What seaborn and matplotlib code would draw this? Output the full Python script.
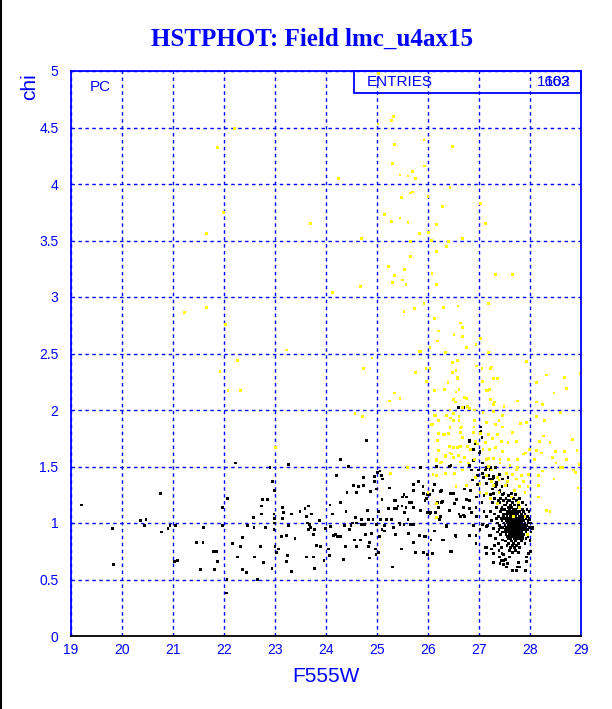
import pandas as pd
import matplotlib.pyplot as plt
import matplotlib.ticker as mticker
from matplotlib.patches import Rectangle
from matplotlib.lines import Line2D
import seaborn as sns

# values (F555W, chi)
black_pts = [
    (19.20, 1.16), (19.82, 0.95), (19.84, 0.63), (20.37, 1.02), (20.47, 1.03), (20.44, 0.98),
    (20.76, 1.26), (20.78, 0.92), (20.90, 0.95), (20.94, 0.98), (21.05, 0.98), (21.03, 0.66),
    (21.09, 0.67), (21.54, 0.59), (21.46, 0.83), (21.59, 0.83), (21.60, 0.96), (21.80, 0.75),
    (21.86, 0.75), (21.88, 0.66), (21.82, 0.59), (21.97, 1.14), (21.97, 0.98), (22.07, 1.22),
    (22.22, 1.53), (22.17, 0.82), (22.37, 0.87), (22.33, 0.79), (22.27, 0.70), (22.37, 0.59),
    (22.44, 0.56), (22.46, 0.98), (22.58, 1.05), (22.59, 0.96), (22.60, 0.70), (22.65, 0.50),
    (22.06, 0.50), (22.05, 0.38),
    (22.72, 0.79), (22.78, 0.65), (22.82, 0.96), (22.76, 1.21), (22.86, 1.21), (22.74, 1.15),
    (22.74, 1.08), (22.90, 1.49), (22.95, 1.37), (22.99, 1.29), (22.98, 1.08), (22.99, 1.04),
    (22.99, 1.00), (22.98, 0.94), (23.00, 0.79), (23.03, 0.74), (22.94, 0.60), (23.07, 0.77),
    (23.14, 1.14), (23.17, 1.09), (23.15, 1.04), (23.12, 0.88), (23.22, 0.89), (23.24, 0.71),
    (23.23, 0.66), (23.27, 0.98), (23.27, 1.52), (23.33, 1.08), (23.33, 0.57), (23.39, 0.86),
    (23.49, 1.10), (23.59, 1.13), (23.65, 1.15), (23.62, 1.06), (23.63, 1.00), (23.67, 0.99),
    (23.70, 0.96), (23.65, 0.94), (23.72, 1.08), (23.76, 0.90), (23.78, 0.94), (23.62, 0.70),
    (23.76, 0.70), (23.78, 0.60), (23.82, 0.80), (23.89, 0.79), (23.88, 1.02), (23.96, 0.67),
    (23.99, 0.95), (24.05, 0.77), (24.07, 0.71), (24.08, 1.16), (24.09, 0.97), (24.12, 1.08),
    (24.14, 0.89), (24.20, 1.42), (24.18, 0.90), (24.22, 0.88), (24.29, 1.56), (24.29, 1.18),
    (24.29, 0.88), (24.35, 0.68), (24.37, 0.98), (24.38, 0.79), (24.39, 1.10), (24.41, 1.27),
    (24.44, 1.50), (24.46, 0.94), (24.49, 0.98), (24.52, 1.00), (24.54, 1.33), (24.56, 0.85),
    (24.58, 1.05), (24.60, 1.27), (24.60, 1.00), (24.60, 0.79), (24.64, 1.32), (24.67, 0.85),
    (24.69, 1.03), (24.70, 0.99), (24.74, 1.40), (24.74, 1.33), (24.76, 0.99), (24.78, 0.90),
    (24.80, 1.73), (24.82, 1.11), (24.83, 1.03), (24.84, 0.79), (24.85, 0.69), (24.86, 0.83),
    (24.88, 1.28), (24.89, 0.91), (24.92, 1.03), (24.95, 1.41), (24.95, 1.37), (24.97, 0.77),
    (24.98, 0.72), (24.99, 1.30), (24.99, 0.99), (25.01, 1.45), (25.03, 1.10), (25.03, 0.74),
    (25.05, 0.88), (25.06, 1.46), (25.07, 1.03), (25.09, 1.42), (25.10, 1.21), (25.11, 1.39),
    (25.10, 0.94), (25.14, 0.98), (25.15, 0.93), (25.18, 1.03), (25.22, 1.13), (25.24, 1.31),
    (25.29, 1.03), (25.31, 0.61), (25.32, 0.96), (25.34, 1.20), (25.35, 1.13), (25.37, 1.20),
    (25.37, 0.90), (25.39, 1.13), (25.41, 1.15), (25.44, 1.00), (25.45, 0.99), (25.48, 0.77),
    (25.49, 1.15), (25.50, 1.23), (25.53, 1.25), (25.53, 0.99), (25.54, 1.09), (25.57, 1.14),
    (25.58, 1.23), (25.61, 1.03), (25.62, 0.91), (25.63, 1.18), (25.65, 0.99), (25.67, 1.18),
    (25.68, 0.99), (25.71, 1.34), (25.71, 1.29), (25.71, 1.14), (25.71, 0.99), (25.72, 0.83),
    (25.75, 0.74), (25.82, 1.37), (25.86, 1.49), (25.86, 1.11), (25.84, 0.89), (25.90, 1.32),
    (25.91, 1.26), (25.91, 0.74), (25.94, 1.20), (25.95, 0.88), (25.97, 1.22), (25.99, 1.25),
    (25.99, 0.72), (25.99, 1.09), (26.03, 1.25), (26.05, 1.09), (26.06, 0.85), (26.09, 0.73),
    (26.10, 1.29), (26.12, 1.34), (26.13, 0.93), (26.15, 1.09), (26.17, 1.50), (26.18, 1.18),
    (26.21, 1.14), (26.22, 1.03),
    (26.61, 2.02), (26.70, 2.02), (27.04, 1.85), (27.04, 1.81), (27.06, 1.76), (26.82, 1.73),
    (26.93, 1.70), (27.02, 1.63), (26.89, 1.55), (26.82, 1.51), (26.45, 1.51), (27.07, 1.53),
    (26.99, 1.47), (27.12, 1.47), (27.22, 1.47), (26.88, 1.38), (26.97, 1.34), (27.18, 1.42),
    (27.27, 1.39), (27.33, 1.34), (27.41, 1.29), (26.25, 1.28), (26.04, 1.08), (26.27, 1.18),
    (26.42, 1.11), (26.50, 1.26), (26.61, 1.08), (26.69, 1.07), (26.81, 1.20), (26.86, 1.09),
    (27.02, 0.94), (27.15, 0.97), (27.22, 0.89), (26.37, 0.97), (26.55, 0.88), (26.30, 0.85),
    (25.92, 0.88), (26.10, 0.73), (26.44, 0.75), (27.12, 0.78), (27.25, 0.77), (27.44, 0.67),
    (27.48, 0.63), (27.56, 0.64), (27.66, 0.58), (27.75, 0.61), (27.90, 0.58), (27.93, 0.70),
    (28.00, 0.85), (28.05, 0.95), (28.00, 1.03),
    (26.60, 2.02), (27.03, 1.80), (26.82, 1.72), (26.93, 1.72), (27.01, 1.62), (26.89, 1.65),
    (26.42, 1.50), (26.86, 1.47), (27.14, 1.49), (27.22, 1.49), (27.32, 1.49), (27.07, 1.44),
    (26.97, 1.42), (27.09, 1.40), (27.20, 1.39), (27.28, 1.41), (27.40, 1.43), (27.46, 1.39),
    (27.57, 1.40), (26.72, 1.30), (26.84, 1.29), (26.98, 1.34), (27.15, 1.35), (27.35, 1.34),
    (27.45, 1.32), (27.54, 1.33), (26.26, 1.29), (26.44, 1.26), (26.56, 1.21), (26.76, 1.21),
    (26.95, 1.23), (27.10, 1.24), (27.29, 1.26), (27.49, 1.26), (26.29, 1.19), (26.52, 1.17),
    (26.69, 1.14), (26.81, 1.13), (26.94, 1.14), (27.06, 1.18), (26.25, 1.06), (26.63, 1.06),
    (26.71, 1.06), (26.95, 1.06), (27.10, 1.10), (27.15, 1.06), (26.37, 0.98), (26.89, 0.98),
    (27.07, 0.99), (27.16, 0.98), (26.81, 0.89), (26.54, 0.89), (26.94, 0.89), (27.20, 0.89),
    (26.29, 0.85), (26.94, 0.82), (27.15, 0.78), (26.46, 0.75), (27.28, 0.73), (27.15, 0.73),
    (27.39, 0.76), (27.45, 0.73), (27.49, 0.67), (27.29, 0.65), (27.41, 0.64), (27.54, 0.61),
    (27.66, 0.58), (27.73, 0.58), (27.78, 0.65), (27.80, 0.61), (27.91, 0.58), (27.93, 0.66),
    (27.97, 0.73), (28.01, 0.75), (28.05, 0.96), (28.00, 0.84),
]

# dense clump of black points near F555W 27.7, chi 1.0
core_pts = [
    (27.52, 1.08), (27.58, 1.08), (27.63, 1.08), (27.70, 1.08), (27.76, 1.08), (27.83, 1.08), (27.90, 1.08),
    (27.48, 1.06), (27.55, 1.06), (27.61, 1.06), (27.66, 1.06), (27.72, 1.06), (27.79, 1.06), (27.86, 1.06),
    (27.95, 1.06), (27.50, 1.04), (27.56, 1.04), (27.60, 1.04), (27.64, 1.04), (27.69, 1.04), (27.74, 1.04),
    (27.80, 1.04), (27.85, 1.04), (27.92, 1.04), (27.98, 1.04), (27.45, 1.02), (27.53, 1.02), (27.58, 1.02),
    (27.62, 1.02), (27.67, 1.02), (27.71, 1.02), (27.77, 1.02), (27.82, 1.02), (27.88, 1.02), (27.96, 1.02),
    (27.49, 1.00), (27.55, 1.00), (27.59, 1.00), (27.63, 1.00), (27.66, 1.00), (27.70, 1.00), (27.75, 1.00),
    (27.79, 1.00), (27.84, 1.00), (27.90, 1.00), (27.97, 1.00), (27.51, 0.98), (27.57, 0.98), (27.61, 0.98),
    (27.65, 0.98), (27.69, 0.98), (27.73, 0.98), (27.78, 0.98), (27.83, 0.98), (27.87, 0.98), (27.93, 0.98),
    (27.47, 0.96), (27.54, 0.96), (27.60, 0.96), (27.64, 0.96), (27.68, 0.96), (27.72, 0.96), (27.76, 0.96),
    (27.81, 0.96), (27.86, 0.96), (27.91, 0.96), (27.99, 0.96), (27.52, 0.94), (27.58, 0.94), (27.62, 0.94),
    (27.67, 0.94), (27.71, 0.94), (27.75, 0.94), (27.80, 0.94), (27.85, 0.94), (27.89, 0.94), (27.95, 0.94),
    (27.50, 0.92), (27.56, 0.92), (27.61, 0.92), (27.65, 0.92), (27.70, 0.92), (27.74, 0.92), (27.79, 0.92),
    (27.84, 0.92), (27.92, 0.92), (27.53, 0.90), (27.59, 0.90), (27.63, 0.90), (27.68, 0.90), (27.73, 0.90),
    (27.77, 0.90), (27.82, 0.90), (27.88, 0.90), (27.55, 0.88), (27.60, 0.88), (27.66, 0.88), (27.71, 0.88),
    (27.76, 0.88), (27.81, 0.88), (27.86, 0.88), (27.57, 0.86), (27.62, 0.86), (27.69, 0.86), (27.74, 0.86),
    (27.79, 0.86), (27.85, 0.86), (27.56, 1.10), (27.62, 1.10), (27.68, 1.10), (27.74, 1.10), (27.80, 1.10),
    (27.50, 1.12), (27.60, 1.12), (27.67, 1.12), (27.72, 1.12), (27.85, 1.12), (27.45, 1.14), (27.58, 1.14),
    (27.64, 1.14), (27.78, 1.14), (27.52, 1.16), (27.62, 1.16), (27.70, 1.16), (27.40, 1.18), (27.55, 1.18),
    (27.66, 1.18), (27.48, 1.20), (27.60, 1.20), (27.42, 1.22), (27.53, 1.22), (27.52, 0.84), (27.64, 0.84),
    (27.72, 0.84), (27.83, 0.84), (27.58, 0.82), (27.68, 0.82), (27.77, 0.82), (27.90, 0.82), (27.55, 0.80),
    (27.66, 0.80), (27.74, 0.80), (27.62, 0.78), (27.70, 0.78), (27.80, 0.78), (27.60, 0.76), (27.72, 0.76),
    (27.66, 0.74), (27.78, 0.74),
    (27.22, 1.25), (27.26, 1.18), (27.30, 1.22), (27.34, 1.14), (27.38, 1.20), (27.42, 1.10), (27.30, 1.08),
    (27.25, 1.02), (27.35, 1.04), (27.40, 0.98), (27.44, 1.04), (27.28, 0.95), (27.36, 0.92), (27.42, 0.90),
    (27.33, 0.86), (27.38, 0.82), (27.46, 0.85), (27.30, 0.80), (27.44, 0.78), (27.48, 0.72), (27.40, 0.70),
    (27.52, 0.68), (27.60, 0.70), (27.22, 1.10), (27.26, 1.30), (27.32, 1.32), (27.40, 1.28), (27.46, 1.25),
    (27.35, 1.36), (27.28, 1.40),
    (27.88, 1.10), (27.94, 1.12), (27.78, 1.16), (27.85, 1.18), (27.74, 1.20), (27.68, 1.22), (27.80, 1.22),
    (27.58, 1.24), (27.64, 1.26), (27.72, 1.25), (27.38, 1.06), (27.36, 1.00), (27.42, 0.96), (27.39, 0.94),
    (27.45, 0.92), (27.47, 1.08), (27.44, 1.12), (27.50, 1.16), (27.57, 1.20), (27.92, 1.16), (27.98, 1.10),
    (28.02, 1.00), (28.02, 0.92), (27.96, 0.88), (27.92, 0.86),
]

yellow_pts = [
    (22.21, 4.49), (21.88, 4.32), (21.65, 3.56), (21.99, 3.75), (21.65, 2.91), (21.23, 2.86),
    (22.03, 2.76), (22.27, 2.44), (21.92, 2.34), (22.08, 2.17), (22.33, 2.17),
    (25.97, 2.25), (26.12, 2.17), (25.35, 2.15), (25.45, 2.10), (25.25, 2.08), (24.57, 1.97),
    (24.72, 1.94), (26.14, 1.95), (26.21, 1.91), (26.09, 1.87), (26.20, 1.79), (23.01, 1.67),
    (26.17, 1.56), (25.60, 1.49), (25.26, 1.44), (26.16, 1.42), (26.16, 1.05),
    (25.03, 4.98), (25.33, 4.60), (25.29, 4.56), (25.02, 4.53), (25.92, 4.39), (25.35, 4.35),
    (26.48, 4.33), (25.31, 4.18), (25.93, 4.16), (25.45, 4.08), (25.70, 4.11), (25.61, 4.07),
    (25.76, 4.05), (24.25, 4.05), (26.43, 3.97), (25.70, 3.93), (25.66, 3.92), (25.48, 3.88),
    (26.00, 3.89), (26.29, 3.80), (25.14, 3.73), (25.45, 3.70), (25.29, 3.67), (25.61, 3.66),
    (26.17, 3.64), (23.69, 3.65), (25.84, 3.56), (26.01, 3.57), (24.70, 3.52), (25.66, 3.49),
    (26.07, 3.50), (26.40, 3.49), (26.37, 3.45), (25.66, 3.36), (26.17, 3.40), (25.54, 3.24),
    (25.23, 3.27), (25.35, 3.19), (25.50, 3.15), (25.31, 3.13), (25.57, 3.11), (26.08, 3.21),
    (26.16, 3.11), (24.68, 3.09), (24.13, 3.04), (25.53, 2.87), (25.74, 2.90), (25.92, 2.94),
    (26.31, 2.91), (26.59, 2.92), (26.13, 2.81), (26.20, 2.70), (26.51, 2.67), (26.18, 2.61),
    (26.04, 2.55), (25.84, 2.52), (26.35, 2.51), (23.23, 2.53), (24.90, 2.46), (24.74, 2.37),
    (25.96, 2.37), (25.76, 2.33), (26.48, 2.42), (26.59, 2.44), (26.55, 2.35), (26.48, 2.33),
    (26.59, 2.28),
    (27.03, 3.83), (27.12, 3.65), (26.67, 3.52), (27.33, 3.20), (27.66, 3.20), (27.18, 2.94),
    (26.64, 2.77), (26.68, 2.73), (26.67, 2.65), (27.03, 2.63), (26.94, 2.58), (26.76, 2.55),
    (27.19, 2.51), (26.95, 2.39), (27.06, 2.37), (27.22, 2.37), (27.24, 2.38), (27.93, 2.43),
    (27.29, 2.28), (27.37, 2.28), (26.57, 2.28), (28.33, 2.31), (28.68, 2.29), (28.99, 2.32),
    (25.86, 2.52), (26.58, 2.44), (25.96, 2.37), (26.58, 2.29), (27.15, 2.17), (28.12, 2.24),
    (28.72, 2.19), (28.47, 2.15),
    (26.13, 1.95), (26.21, 1.91), (26.37, 1.95), (26.44, 1.93), (26.50, 1.91), (26.61, 1.91),
    (26.65, 1.85), (26.43, 1.84), (26.31, 1.78), (26.21, 1.79), (26.07, 1.87), (26.18, 1.73),
    (26.63, 1.80), (26.67, 1.76), (26.58, 1.67), (26.50, 1.67), (26.43, 1.62), (26.34, 1.60),
    (26.21, 1.64), (26.17, 1.55), (26.25, 1.53), (26.35, 1.44), (26.10, 1.43), (26.52, 1.44),
    (26.00, 1.27), (26.17, 1.17), (26.39, 2.24), (26.33, 2.18), (26.12, 2.17), (26.55, 2.16),
    (26.61, 2.18), (26.50, 2.09), (26.04, 2.37),
    (26.39, 2.24), (27.07, 2.25), (27.16, 2.17), (27.20, 2.18), (28.12, 2.24), (28.72, 2.19),
    (28.47, 2.15), (26.33, 2.18), (26.54, 2.07), (26.72, 2.11), (26.76, 2.10), (27.22, 2.09),
    (27.28, 2.05), (27.31, 2.07), (27.75, 2.08), (28.12, 2.07), (28.25, 2.05), (26.43, 2.00),
    (26.67, 2.02), (26.78, 2.03), (26.82, 2.01), (26.91, 2.00), (27.49, 2.03), (27.08, 1.98),
    (27.29, 1.99), (26.37, 1.95), (26.50, 1.97), (26.61, 1.94), (26.91, 1.91), (27.15, 1.89),
    (27.46, 1.95), (27.39, 1.91), (28.13, 1.94), (28.29, 1.91), (28.60, 1.98), (26.43, 1.85),
    (26.64, 1.84), (26.90, 1.85), (27.32, 1.87), (27.46, 1.85), (27.82, 1.88), (27.93, 1.89),
    (26.33, 1.78), (26.40, 1.79), (26.64, 1.80), (26.89, 1.80), (27.03, 1.79), (27.19, 1.78),
    (27.36, 1.78), (27.66, 1.80), (28.27, 1.77), (28.84, 1.74), (26.93, 1.72), (26.97, 1.70),
    (27.12, 1.71), (27.27, 1.75), (27.44, 1.72), (27.57, 1.71), (27.73, 1.72), (28.18, 1.72),
    (28.39, 1.71), (26.42, 1.68), (26.63, 1.68), (26.77, 1.68), (26.84, 1.65), (27.08, 1.65),
    (27.20, 1.65), (27.33, 1.67), (27.46, 1.63), (27.91, 1.62), (27.99, 1.65), (28.12, 1.64),
    (28.22, 1.62), (28.50, 1.63), (28.68, 1.63), (28.92, 1.64), (26.35, 1.59), (26.46, 1.61),
    (26.50, 1.58), (26.60, 1.60), (26.72, 1.58), (26.91, 1.56), (27.14, 1.56), (27.19, 1.57),
    (27.28, 1.57), (27.41, 1.56), (27.58, 1.56), (27.76, 1.56), (27.87, 1.61), (28.09, 1.56),
    (28.44, 1.58), (28.51, 1.53), (28.72, 1.56), (28.97, 1.52), (26.26, 1.54), (26.63, 1.54),
    (26.80, 1.53), (27.19, 1.50), (27.41, 1.53), (27.61, 1.51), (27.75, 1.49), (28.60, 1.49),
    (28.64, 1.49), (28.85, 1.47), (28.89, 1.45), (26.67, 1.47), (27.24, 1.47), (27.54, 1.44),
    (27.73, 1.47), (28.24, 1.46), (26.93, 1.40), (27.15, 1.42), (27.36, 1.40), (27.66, 1.43),
    (27.83, 1.42), (27.97, 1.43), (28.17, 1.42), (28.47, 1.39), (27.25, 1.37), (27.39, 1.38),
    (27.56, 1.37), (27.74, 1.39), (27.87, 1.37), (27.02, 1.35), (26.55, 1.32), (26.76, 1.33),
    (27.29, 1.33), (27.52, 1.33), (27.80, 1.32), (27.96, 1.32), (28.16, 1.33), (28.94, 1.31),
    (27.02, 1.27), (27.15, 1.26), (27.39, 1.27), (27.70, 1.29), (27.90, 1.27), (28.17, 1.23),
    (27.22, 1.22), (27.63, 1.23), (27.78, 1.18), (27.36, 1.17), (28.33, 1.11), (28.39, 1.10),
    (27.90, 1.06), (27.67, 1.06), (27.95, 0.90), (27.80, 1.14),
]

blue = "#0000ff"

rows = ([(x, y, "black") for x, y in black_pts + core_pts]
        + [(x, y, "yellow") for x, y in yellow_pts])
df = pd.DataFrame(rows, columns=["F555W", "chi", "group"])

sns.set_style("white")
plt.rcParams["font.family"] = ["Liberation Sans", "DejaVu Sans"]

fig = plt.figure(figsize=(6.12, 7.09), dpi=100)
ax = fig.add_axes([71 / 612, 73 / 709, 510 / 612, 565 / 709])

sns.scatterplot(data=df, x="F555W", y="chi", hue="group",
                palette={"black": "black", "yellow": "#ffff00"},
                marker="s", s=4, linewidth=0, legend=False, ax=ax, zorder=2)

ax.set_xlim(19, 29)
ax.set_ylim(0, 5)
ax.set_xlabel("")
ax.set_ylabel("")

ax.xaxis.set_major_locator(mticker.MultipleLocator(1))
ax.xaxis.set_minor_locator(mticker.MultipleLocator(0.2))
ax.yaxis.set_major_locator(mticker.MultipleLocator(0.5))
ax.yaxis.set_minor_locator(mticker.MultipleLocator(0.1))
ax.yaxis.set_major_formatter(mticker.FuncFormatter(lambda v, p: "%g" % v))

ax.set_axisbelow(True)
ax.grid(True, which="major", color=blue, linestyle=(0, (2.5, 2.5)), linewidth=1.0)

for side in ["left", "top", "right"]:
    ax.spines[side].set_color(blue)
    ax.spines[side].set_linewidth(1.3)
ax.spines["bottom"].set_color("black")
ax.spines["bottom"].set_linewidth(1.3)

ax.tick_params(axis="x", which="major", direction="in", length=8, width=1,
               color="black", labelcolor=blue, labelsize=10, pad=5)
ax.tick_params(axis="x", which="minor", direction="in", length=3.5, width=1, color="black")
ax.tick_params(axis="y", which="major", direction="in", length=6.5, width=1,
               color=blue, labelcolor=blue, labelsize=10, pad=9)
ax.tick_params(axis="y", which="minor", direction="in", length=3.5, width=1, color=blue)

# stats box in the top right corner (two entry counts printed on top of each other)
ax.add_patch(Rectangle((0.555, 0.961), 0.445, 0.039, transform=ax.transAxes,
                       fill=False, edgecolor=blue, linewidth=1.3, zorder=0.4, clip_on=False))
ax.text(0.58, 0.980, "ENTRIES", transform=ax.transAxes, color=blue,
        fontsize=11, ha="left", va="center", zorder=0.45)
ax.text(0.98, 0.980, "1602", transform=ax.transAxes, color=blue,
        fontsize=11, ha="right", va="center", zorder=0.45)
ax.text(0.98, 0.980, "163", transform=ax.transAxes, color=blue,
        fontsize=11, ha="right", va="center", zorder=0.45)
ax.text(0.037, 0.972, "PC", transform=ax.transAxes, color=blue,
        fontsize=11, ha="left", va="center")

fig.text(312 / 612, (709 - 46) / 709, "HSTPHOT: Field lmc_u4ax15", color=blue,
         fontsize=18, fontweight="bold", family=["Liberation Serif", "DejaVu Serif"],
         ha="center", va="baseline")
fig.text(326 / 612, (709 - 676) / 709, "F555W", color=blue, fontsize=15,
         ha="center", va="center")
fig.text(30 / 612, (709 - 87) / 709, "chi", color=blue, fontsize=15, rotation=90,
         ha="center", va="center")

fig.add_artist(Line2D([0.0015, 0.0015], [0, 1], color="black", linewidth=1.5,
                      transform=fig.transFigure))

fig.savefig("out.png", dpi=100)
